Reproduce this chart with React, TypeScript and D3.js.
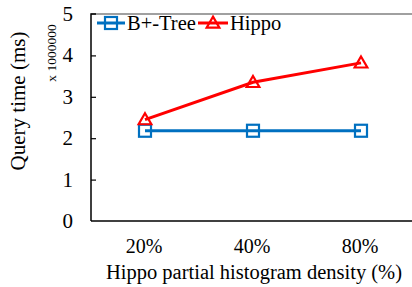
import React, { useEffect, useRef } from "react";
import * as d3 from "d3";

const categories = ["20%", "40%", "80%"];
const bTree = [2.18, 2.18, 2.18];
const hippo = [2.45, 3.35, 3.82];
const yTicks = [0, 1, 2, 3, 4, 5];

const App = () => {
  const ref = useRef<SVGSVGElement>(null);

  useEffect(() => {
    const svg = d3.select(ref.current);
    svg.selectAll("*").remove();

    const left = 91;
    const top = 14;
    const bottom = 221;
    const right = 415;
    const font = "Liberation Serif";

    const x = d3.scaleBand().domain(categories).range([left, right]);
    const y = d3.scaleLinear().domain([0, 5]).range([bottom, top]);
    const cx = (d: string) => (x(d) as number) + x.bandwidth() / 2;

    // frame: gray top line
    svg.append("line")
      .attr("x1", left).attr("x2", 412).attr("y1", top).attr("y2", top)
      .attr("stroke", "#808080").attr("stroke-width", 1.5);

    // y axis, ticks pointing inward
    const ya = svg.append("g").attr("transform", `translate(${left},0)`)
      .call(d3.axisRight(y).tickValues(yTicks).tickSize(5).tickFormat(() => ""));
    ya.select(".domain").attr("stroke", "#000").attr("stroke-width", 1.5).attr("d", `M5,${top}H0V${bottom}`);
    ya.selectAll(".tick line").attr("stroke", "#000").attr("stroke-width", 1.2);
    ya.selectAll(".tick").filter((d: any) => d === 0 || d === 5).select("line").remove();

    svg.append("g").selectAll("text").data(yTicks).enter().append("text")
      .attr("x", 73).attr("y", (d) => y(d) + 7)
      .attr("text-anchor", "end")
      .attr("font-family", font).attr("font-size", 21)
      .text((d) => d);

    // x axis
    svg.append("line")
      .attr("x1", left).attr("x2", 412).attr("y1", bottom).attr("y2", bottom)
      .attr("stroke", "#000").attr("stroke-width", 1.5);
    svg.append("g").selectAll("text").data(categories).enter().append("text")
      .attr("x", (d) => cx(d) - 1).attr("y", 253)
      .attr("text-anchor", "middle")
      .attr("font-family", font).attr("font-size", 20)
      .text((d) => d);

    svg.append("text")
      .attr("x", 254).attr("y", 279)
      .attr("text-anchor", "middle")
      .attr("font-family", font).attr("font-size", 20.5)
      .text("Hippo partial histogram density (%)");

    svg.append("text")
      .attr("transform", `translate(25,101) rotate(-90)`)
      .attr("text-anchor", "middle")
      .attr("font-family", font).attr("font-size", 21)
      .text("Query time (ms)");

    svg.append("text")
      .attr("transform", `translate(56,53) rotate(-90)`)
      .attr("text-anchor", "middle")
      .attr("font-family", font).attr("font-size", 13.5)
      .text("x 1000000");

    const line = d3.line<number>().x((d, i) => cx(categories[i])).y((d) => y(d));

    const blue = "#0070C0";
    const red = "#FF0000";

    // B+-Tree
    svg.append("path").datum(bTree).attr("d", line)
      .attr("fill", "none").attr("stroke", blue).attr("stroke-width", 3);
    svg.append("g").selectAll("rect").data(bTree).enter().append("rect")
      .attr("x", (d, i) => cx(categories[i]) - 6).attr("y", (d) => y(d) - 6)
      .attr("width", 12).attr("height", 12)
      .attr("fill", "none").attr("stroke", blue).attr("stroke-width", 2.2);

    // Hippo
    const tri = d3.symbol().type(d3.symbolTriangle).size(70);
    svg.append("path").datum(hippo).attr("d", line)
      .attr("fill", "none").attr("stroke", red).attr("stroke-width", 3);
    svg.append("g").selectAll("path").data(hippo).enter().append("path")
      .attr("d", tri)
      .attr("transform", (d, i) => `translate(${cx(categories[i])},${y(d) + 1})`)
      .attr("fill", "none").attr("stroke", red).attr("stroke-width", 2.2);

    // legend
    const lg = svg.append("g").attr("transform", "translate(0,23)");
    lg.append("line").attr("x1", 97).attr("x2", 125).attr("stroke", blue).attr("stroke-width", 3);
    lg.append("rect").attr("x", 105).attr("y", -6).attr("width", 12).attr("height", 12)
      .attr("fill", "none").attr("stroke", blue).attr("stroke-width", 2.2);
    lg.append("text").attr("x", 127).attr("y", 7)
      .attr("font-family", font).attr("font-size", 20.5).text("B+-Tree");
    lg.append("line").attr("x1", 198).attr("x2", 228).attr("stroke", red).attr("stroke-width", 3);
    lg.append("path").attr("d", tri).attr("transform", "translate(213,1)")
      .attr("fill", "none").attr("stroke", red).attr("stroke-width", 2.2);
    lg.append("text").attr("x", 230).attr("y", 7)
      .attr("font-family", font).attr("font-size", 20.5).text("Hippo");
  }, []);

  return (
    <svg ref={ref} width={412} height={287}
      style={{ position: "absolute", left: 0, top: 0, background: "#fff" }} />
  );
};

export default App;
